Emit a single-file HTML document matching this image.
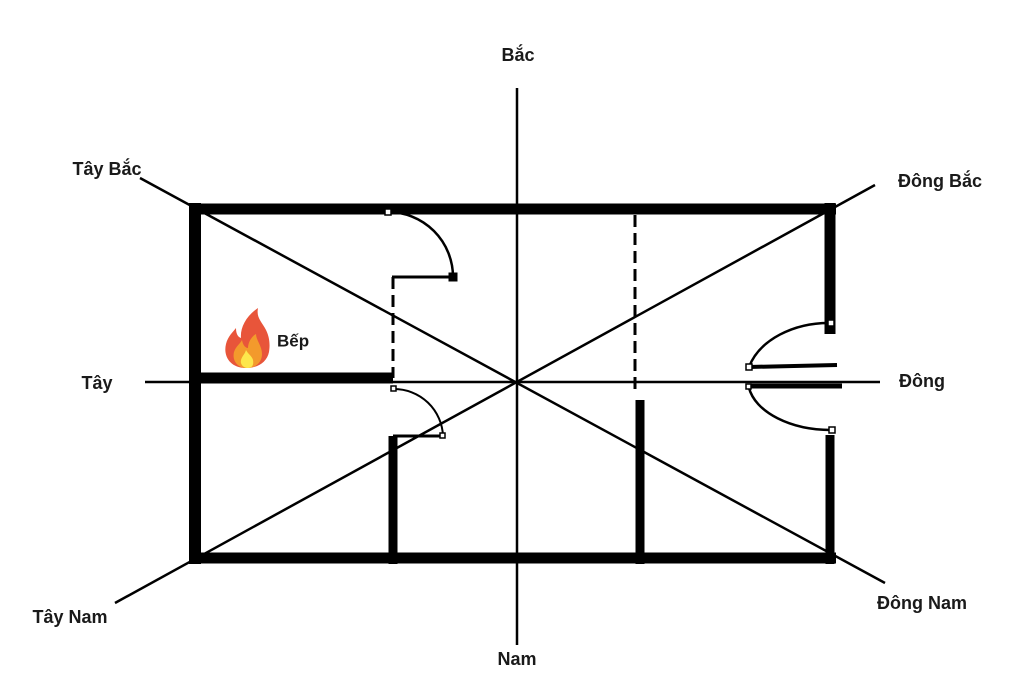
<!DOCTYPE html>
<html><head><meta charset="utf-8"><style>
html,body{margin:0;padding:0;background:#fff;}
svg{display:block;}
text{font-family:"Liberation Sans",sans-serif;font-size:18px;font-weight:bold;fill:#1a1a1a;text-anchor:middle;dominant-baseline:central;}
</style></head><body>
<svg width="1024" height="687" viewBox="0 0 1024 687">
<rect width="1024" height="687" fill="#fff"/>
<g stroke="#000" fill="none">
<line x1="145" y1="382" x2="880" y2="382" stroke-width="2.5"/>
<line x1="517" y1="88" x2="517" y2="645" stroke-width="2.5"/>
<line x1="140" y1="178" x2="885" y2="583" stroke-width="2.5"/>
<line x1="115" y1="603" x2="875" y2="185" stroke-width="2.5"/>
<line x1="189" y1="209" x2="836" y2="209" stroke-width="11"/>
<line x1="189" y1="558" x2="836" y2="558" stroke-width="11"/>
<line x1="195" y1="203" x2="195" y2="564" stroke-width="12"/>
<line x1="830" y1="203" x2="830" y2="334" stroke-width="11"/>
<line x1="830" y1="435" x2="830" y2="564" stroke-width="9"/>
<line x1="195" y1="378" x2="393" y2="378" stroke-width="11"/>
<line x1="393" y1="277" x2="393" y2="378" stroke-width="3" stroke-dasharray="12,6"/>
<line x1="392" y1="277" x2="453" y2="277" stroke-width="3"/>
<path d="M388 212 A65 65 0 0 1 453 277" stroke-width="2.5"/>
<rect x="449" y="273" width="8" height="8" fill="#000"/>
<rect x="385" y="209" width="6" height="6" fill="#fff" stroke-width="1.5"/>
<path d="M394 389 A49 49 0 0 1 443 436" stroke-width="2"/>
<line x1="393" y1="436" x2="443" y2="436" stroke-width="3"/>
<rect x="391" y="386" width="5" height="5" fill="#fff" stroke-width="1.5"/>
<rect x="440" y="433" width="5" height="5" fill="#fff" stroke-width="1.5"/>
<line x1="393" y1="436" x2="393" y2="564" stroke-width="9"/>
<line x1="635" y1="215" x2="635" y2="392" stroke-width="3" stroke-dasharray="12,6"/>
<line x1="640" y1="400" x2="640" y2="564" stroke-width="9"/>
<path d="M832 323 A83 60 0 0 0 749 367" stroke-width="2.5"/>
<line x1="749" y1="367" x2="837" y2="365" stroke-width="4"/>
<line x1="749" y1="386" x2="842" y2="386" stroke-width="5"/>
<path d="M749 388 A83 50 0 0 0 832 430" stroke-width="2.5"/>
<rect x="746" y="364" width="6" height="6" fill="#fff" stroke-width="1.5"/>
<rect x="746" y="384" width="5" height="5" fill="#fff" stroke-width="1.5"/>
<rect x="828" y="320" width="6" height="6" fill="#fff" stroke-width="1.5"/>
<rect x="829" y="427" width="6" height="6" fill="#fff" stroke-width="1.5"/>
</g>
<path d="M246 368 C230 368 223 356 226 344 C228 336 233 332 236 328 C236 334 238 337 241 338 C240 328 246 316 258 308 C256 318 262 322 266 330 C270 338 270 346 269 352 C267 362 258 368 246 368 Z" fill="#e8553a"/>
<path d="M247 368 C237 368 232 360 234 352 C236 346 240 344 242 340 C243 346 246 348 248 348 C248 342 252 336 256 334 C256 340 262 346 262 354 C262 362 256 368 247 368 Z" fill="#f39a2c"/>
<path d="M248 368 C243 368 240 364 241 360 C242 356 245 354 246 350 C248 354 252 356 253 360 C254 365 252 368 248 368 Z" fill="#fde74c"/>
<text x="277" y="341" style="font-size:17px;text-anchor:start">Bếp</text>
<text x="518" y="55">Bắc</text>
<text x="107" y="169">Tây Bắc</text>
<text x="940" y="181">Đông Bắc</text>
<text x="97" y="383">Tây</text>
<text x="922" y="381">Đông</text>
<text x="70" y="617">Tây Nam</text>
<text x="922" y="603">Đông Nam</text>
<text x="517" y="659">Nam</text>
</svg>
</body></html>
